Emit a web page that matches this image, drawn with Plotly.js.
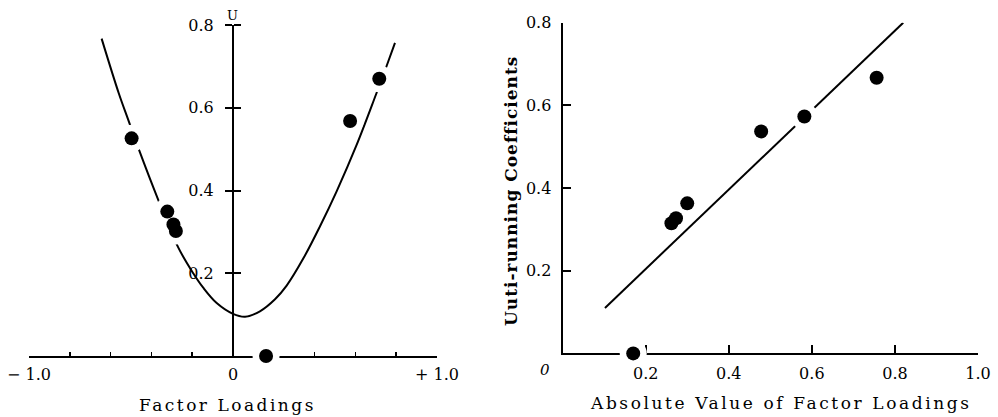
<!DOCTYPE html>
<html>
<head>
<meta charset="utf-8">
<script src="https://cdn.plot.ly/plotly-3.0.1.min.js"></script>
<style>
  html, body { margin: 0; padding: 0; background: #ffffff; }
  #chart { width: 998px; height: 417px; }
</style>
</head>
<body>
<div id="chart"></div>
<script>
// ---- Left panel: Factor Loadings vs U ----
const leftCurveX = [-0.644, -0.56, -0.513, -0.462, -0.366, -0.268, -0.195, -0.146, -0.080, 0.0, 0.059, 0.132, 0.206, 0.263, 0.345, 0.426, 0.508, 0.606, 0.701, 0.745, 0.794];
const leftCurveY = [0.767, 0.635, 0.570, 0.500, 0.377, 0.262, 0.200, 0.165, 0.128, 0.102, 0.095, 0.108, 0.137, 0.170, 0.236, 0.313, 0.398, 0.510, 0.632, 0.690, 0.757];
const leftPointX = [-0.497, -0.322, -0.292, -0.280, 0.162, 0.574, 0.717];
const leftPointY = [0.526, 0.349, 0.318, 0.302, 0.0, 0.568, 0.670];
const leftXTicks = [-1.0, -0.8, -0.6, -0.4, -0.2, 0, 0.2, 0.4, 0.6, 0.8, 1.0];
const leftXTickText = ['\u2212 1.0', '', '', '', '', '0', '', '', '', '', '+ 1.0'];
const leftYTicks = [0.2, 0.4, 0.6, 0.8];
const leftYTickText = ['0.2', '0.4', '0.6', '0.8'];

// ---- Right panel: |Factor Loadings| vs Uuti-running Coefficients ----
const rightPointX = [0.170, 0.262, 0.273, 0.300, 0.478, 0.582, 0.756];
const rightPointY = [0.0, 0.315, 0.327, 0.363, 0.537, 0.573, 0.667];
const rightLineX = [0.102, 0.820];
const rightLineY = [0.110, 0.800];
const rightXTicks = [0.2, 0.4, 0.6, 0.8, 1.0];
const rightXTickText = ['0.2', '0.4', '0.6', '0.8', '1.0'];
const rightYTicks = [0.2, 0.4, 0.6, 0.8];
const rightYTickText = ['0.2', '0.4', '0.6', '0.8'];

const FONT = 'DejaVu Serif, Liberation Serif, serif';
const W = 998, H = 417;
const px = v => v / W;
const py = v => 1 - v / H;
const HALO = '#ffffff';

const traces = [
  { x: leftCurveX, y: leftCurveY, xaxis: 'x', yaxis: 'y', mode: 'lines',
    line: { color: '#000', width: 2, shape: 'spline', smoothing: 1 }, hoverinfo: 'skip' },
  { x: leftPointX, y: leftPointY, xaxis: 'x', yaxis: 'y', mode: 'markers', cliponaxis: false,
    marker: { color: HALO, size: 27, line: { width: 0 } }, hoverinfo: 'skip' },
  { x: leftPointX, y: leftPointY, xaxis: 'x', yaxis: 'y', mode: 'markers', cliponaxis: false,
    marker: { color: '#000', size: 14 } },
  { x: [], y: [], xaxis: 'x', yaxis: 'y3', mode: 'markers', hoverinfo: 'skip' },
  { x: rightLineX, y: rightLineY, xaxis: 'x2', yaxis: 'y2', mode: 'lines',
    line: { color: '#000', width: 2 }, hoverinfo: 'skip' },
  { x: rightPointX, y: rightPointY, xaxis: 'x2', yaxis: 'y2', mode: 'markers', cliponaxis: false,
    marker: { color: HALO, size: 27, line: { width: 0 } }, hoverinfo: 'skip' },
  { x: rightPointX, y: rightPointY, xaxis: 'x2', yaxis: 'y2', mode: 'markers', cliponaxis: false,
    marker: { color: '#000', size: 14 } }
];

const tickFont = { family: FONT, size: 16, color: '#000' };

const layout = {
  width: W, height: H,
  margin: { l: 0, r: 0, t: 0, b: 0 },
  paper_bgcolor: '#fff', plot_bgcolor: '#fff',
  font: { family: FONT, color: '#000' },
  showlegend: false,
  xaxis: {
    domain: [px(29), px(437)], range: [-1, 1], anchor: 'y',
    showline: true, linecolor: '#000', linewidth: 2, showgrid: false, zeroline: false,
    ticks: 'inside', ticklen: 4, tickwidth: 1.5, tickcolor: '#000',
    tickmode: 'array', tickvals: leftXTicks, ticktext: leftXTickText,
    tickfont: tickFont, ticklabelstandoff: 3, layer: 'below traces', fixedrange: true
  },
  yaxis: {
    domain: [py(356), py(25)], range: [0, 0.8], anchor: 'free', position: px(233),
    showline: true, linecolor: '#000', linewidth: 2, showgrid: false, zeroline: false,
    ticks: 'outside', ticklen: 7, tickwidth: 2, tickcolor: '#000',
    tickmode: 'array', tickvals: leftYTicks, ticktext: leftYTickText,
    tickfont: tickFont, ticklabelstandoff: 8, layer: 'below traces', fixedrange: true
  },
  yaxis3: {
    overlaying: 'y', range: [0, 0.8], anchor: 'free', position: px(233), side: 'right',
    showline: false, showgrid: false, zeroline: false,
    ticks: 'outside', ticklen: 7, tickwidth: 2, tickcolor: '#000',
    tickmode: 'array', tickvals: leftYTicks, showticklabels: false, fixedrange: true
  },
  xaxis2: {
    domain: [px(562.6), px(978)], range: [0, 1], anchor: 'y2',
    showline: true, linecolor: '#000', linewidth: 2, showgrid: false, zeroline: false,
    ticks: 'inside', ticklen: 8, tickwidth: 2, tickcolor: '#000',
    tickmode: 'array', tickvals: rightXTicks, ticktext: rightXTickText,
    tickfont: tickFont, ticklabelstandoff: 4, layer: 'below traces', fixedrange: true
  },
  yaxis2: {
    domain: [py(353.4), py(22.7)], range: [0, 0.8], anchor: 'x2',
    showline: true, linecolor: '#000', linewidth: 2, showgrid: false, zeroline: false,
    ticks: 'inside', ticklen: 8, tickwidth: 2, tickcolor: '#000',
    tickmode: 'array', tickvals: rightYTicks, ticktext: rightYTickText,
    tickfont: tickFont, ticklabelstandoff: 6, layer: 'below traces', fixedrange: true
  },
  annotations: [
    { xref: 'paper', yref: 'paper', x: px(227), y: py(405), xanchor: 'center', yanchor: 'middle',
      showarrow: false, text: '<span style="letter-spacing:2.5px">Factor Loadings</span>',
      font: { family: FONT, size: 17, color: '#000' } },
    { xref: 'paper', yref: 'paper', x: px(781), y: py(403), xanchor: 'center', yanchor: 'middle',
      showarrow: false, text: '<span style="letter-spacing:2.6px">Absolute Value of Factor Loadings</span>',
      font: { family: FONT, size: 17, color: '#000' } },
    { xref: 'paper', yref: 'paper', x: px(511), y: py(191), xanchor: 'center', yanchor: 'middle',
      showarrow: false, textangle: -90, text: '<span style="letter-spacing:1px">Uuti-running Coefficients</span>',
      font: { family: FONT, size: 17, color: '#000', weight: 'bold' } },
    { xref: 'paper', yref: 'paper', x: px(232), y: py(16), xanchor: 'center', yanchor: 'middle',
      showarrow: false, text: 'U', font: { family: FONT, size: 13, color: '#000' } },
    { xref: 'paper', yref: 'paper', x: px(545), y: py(370), xanchor: 'center', yanchor: 'middle',
      showarrow: false, text: '0', font: { family: FONT, size: 15, color: '#000', style: 'italic' } }
  ]
};

Plotly.newPlot('chart', traces, layout, { staticPlot: true, displayModeBar: false });
</script>
</body>
</html>
